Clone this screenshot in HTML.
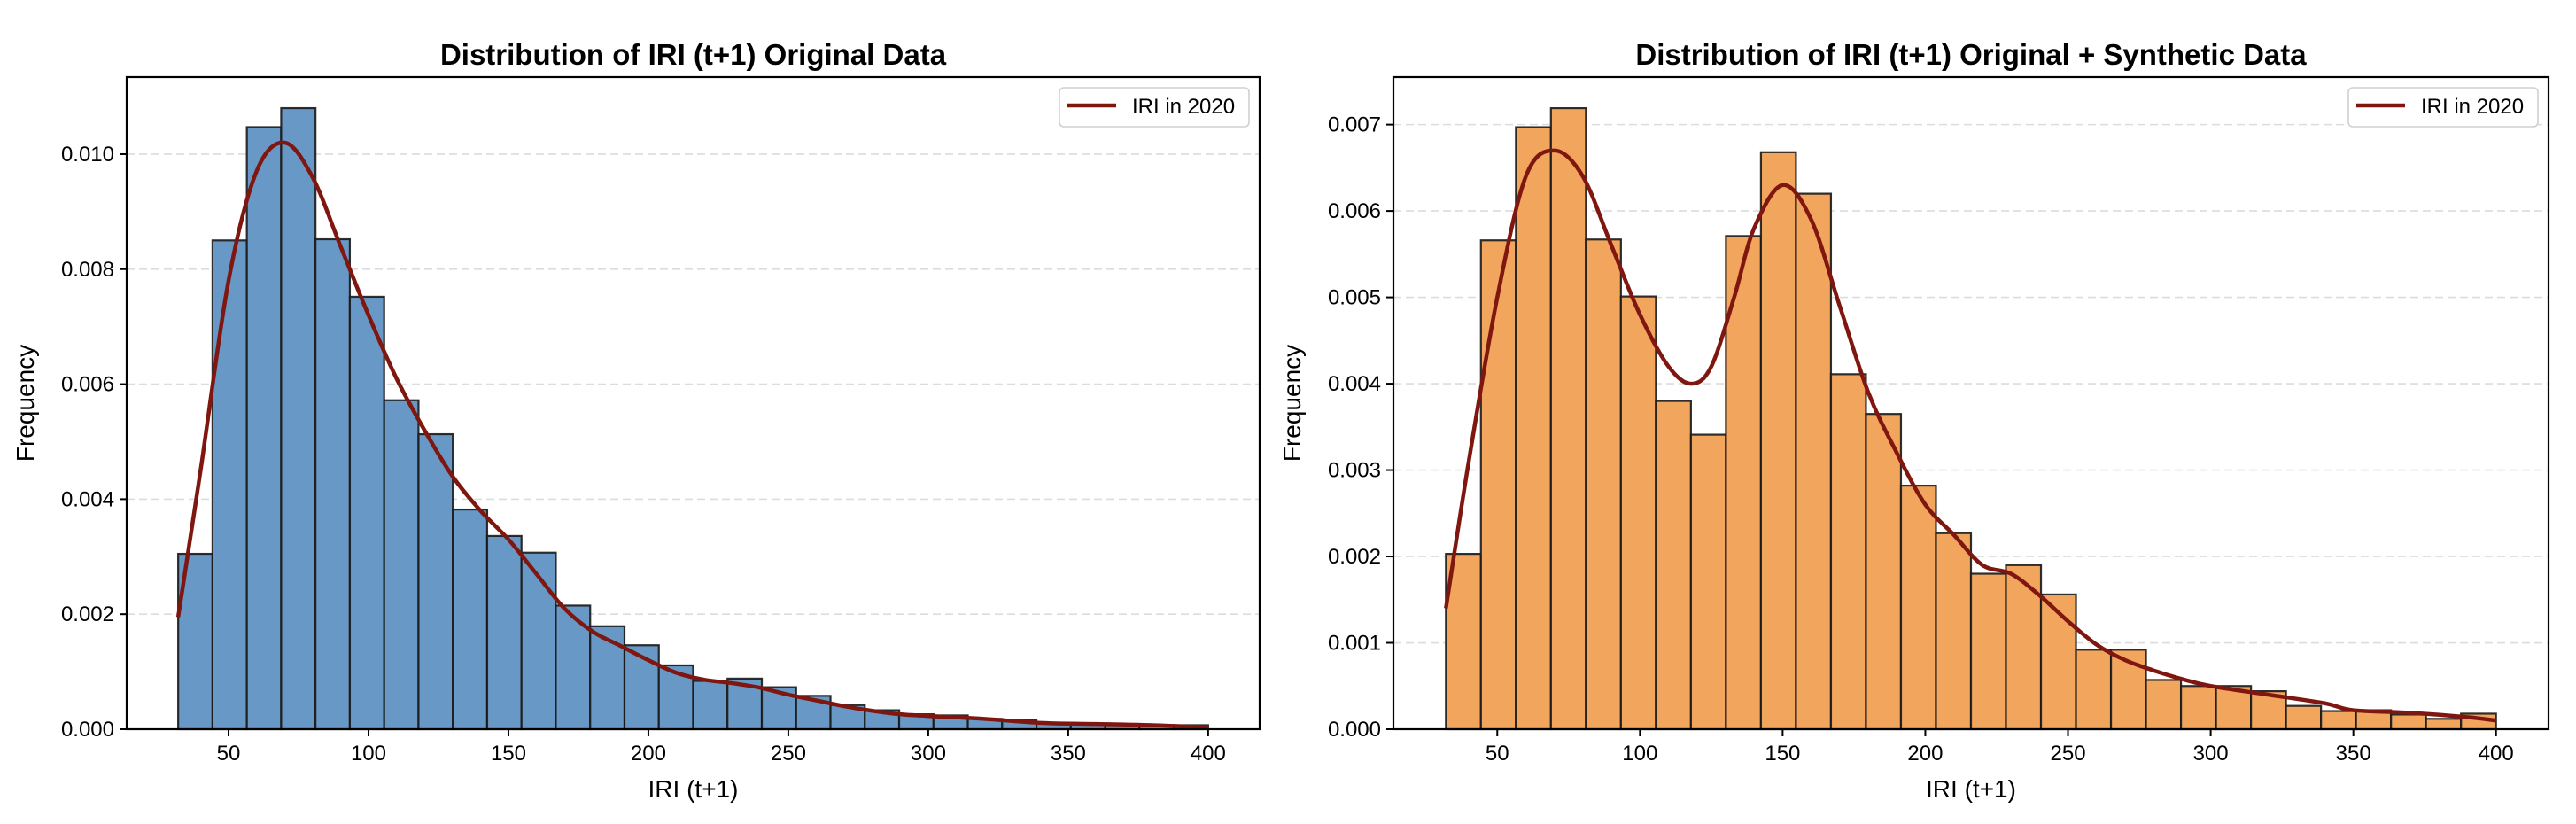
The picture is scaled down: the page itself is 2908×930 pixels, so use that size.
<!DOCTYPE html>
<html><head><meta charset="utf-8">
<style>
html,body{margin:0;padding:0;background:#fff;}
svg{display:block;font-family:"Liberation Sans",Arial,sans-serif;}
</style></head>
<body>
<svg id="fig" width="2908" height="930" viewBox="0 0 2908 930" xmlns="http://www.w3.org/2000/svg"></svg>
<script>
// Shared histogram bin settings
const binStart = 32, binEnd = 400, binCount = 30;
const xTicks = [50,100,150,200,250,300,350,400];

// Left chart data (original)
const leftBars = [0.00305,0.00850,0.01047,0.01080,0.00852,0.00752,0.00572,0.00513,0.00382,0.00336,0.00307,0.00215,0.00179,0.00146,0.00111,0.00084,0.00088,0.00073,0.00058,0.00042,0.00033,0.00026,0.00024,0.00018,0.00016,0.00011,0.00009,0.00007,0.00007,0.00007];
const leftKdeX = [32,40,50,60,70,80,90,100,110,120,130,140,150,160,170,180,190,200,210,220,230,240,250,260,270,280,290,300,320,340,360,380,400];
const leftKdeY = [0.00195,0.0045,0.0078,0.0097,0.0102,0.0096,0.0084,0.0072,0.0061,0.0052,0.0044,0.0038,0.0033,0.0027,0.0021,0.0017,0.00145,0.0012,0.00098,0.00086,0.0008,0.00072,0.0006,0.0005,0.0004,0.00032,0.00026,0.00023,0.00018,0.00011,0.00009,0.00007,0.00003];
const leftYTicks = [0,0.002,0.004,0.006,0.008,0.010];
const leftYMax = 0.01134;

// Right chart data (original + synthetic)
const rightBars = [0.00203,0.00566,0.00697,0.00719,0.00567,0.00501,0.00380,0.00341,0.00571,0.00668,0.00620,0.00411,0.00365,0.00282,0.00227,0.00180,0.00190,0.00156,0.00092,0.00092,0.00057,0.00050,0.00050,0.00044,0.00027,0.00021,0.00022,0.00017,0.00012,0.00018];
const rightKdeX = [32,40,50,60,70,80,90,100,110,118,125,133,140,150,160,170,180,190,200,210,220,230,240,250,260,270,280,290,300,320,340,350,370,390,400];
const rightKdeY = [0.0014,0.0031,0.0050,0.0064,0.0067,0.0064,0.0056,0.0048,0.0042,0.0040,0.0042,0.0050,0.0058,0.0063,0.0059,0.0049,0.0039,0.0032,0.0026,0.00225,0.0019,0.0018,0.00155,0.00125,0.00098,0.0008,0.00068,0.00058,0.0005,0.0004,0.0003,0.00022,0.00019,0.00014,0.0001];
const rightYTicks = [0,0.001,0.002,0.003,0.004,0.005,0.006,0.007];
const rightYMax = 0.00755;

const NS = "http://www.w3.org/2000/svg";
const fig = document.getElementById('fig');
function mk(tag, attrs, parent){
  const e = document.createElementNS(NS, tag);
  for (const k in attrs) e.setAttribute(k, attrs[k]);
  (parent||fig).appendChild(e);
  return e;
}

function drawChart(o){
  const g = mk('g', {});
  
  
  const L=o.left, R=o.right, T=87, B=823;
  const xmin=13.6, xmax=418.4;
  const sx = v => L + (v - xmin)/(xmax - xmin)*(R-L);
  const sy = v => B - v/o.ymax*(B-T);

  o.yTicks.forEach(t=>{
    if (t===0) return;
    const gl = mk('line',{x1:L,x2:R,y1:sy(t),y2:sy(t),stroke:'#dcdcdc','stroke-width':1.6,'stroke-dasharray':'9,5'},g);
    
    
  });

  const bw = (binEnd-binStart)/binCount;
  o.bars.forEach((v,i)=>{
    const x0 = sx(binStart + i*bw), x1 = sx(binStart + (i+1)*bw);
    const r = mk('rect',{x:x0,y:sy(v),width:x1-x0,height:B-sy(v),fill:o.color,stroke:'#1a1a1a','stroke-width':2.2,'stroke-opacity':0.9},g);
    
    
  });

  const pts = o.kx.map((x,i)=>[sx(x), sy(o.ky[i])]);
  let d = 'M'+pts[0][0]+','+pts[0][1];
  for (let i=0;i<pts.length-1;i++){
    const p0=pts[Math.max(0,i-1)], p1=pts[i], p2=pts[i+1], p3=pts[Math.min(pts.length-1,i+2)];
    const c1=[p1[0]+(p2[0]-p0[0])/6, p1[1]+(p2[1]-p0[1])/6];
    const c2=[p2[0]-(p3[0]-p1[0])/6, p2[1]-(p3[1]-p1[1])/6];
    d += ' C'+c1+' '+c2+' '+p2;
  }
  const kde = mk('path',{d:d,fill:'none',stroke:'#7f1710','stroke-width':4.5},g);
  
  

  const fr = mk('rect',{x:L,y:T,width:R-L,height:B-T,fill:'none',stroke:'#000','stroke-width':2.2},g);
  
  

  o.yTicks.forEach(t=>{
    mk('line',{x1:L-8,x2:L,y1:sy(t),y2:sy(t),stroke:'#000','stroke-width':2},g);
    const tx = mk('text',{x:L-14,y:sy(t)+8,'font-size':24,'text-anchor':'end',fill:'#000'},g);
    tx.textContent = t.toFixed(3);
    
    
  });
  xTicks.forEach(t=>{
    mk('line',{x1:sx(t),x2:sx(t),y1:B,y2:B+8,stroke:'#000','stroke-width':2},g);
    const tx = mk('text',{x:sx(t),y:858,'font-size':24,'text-anchor':'middle',fill:'#000'},g);
    tx.textContent = t;
    
    
  });

  const title = mk('text',{x:(L+R)/2,y:73,'font-size':33,'font-weight':'bold','text-anchor':'middle',fill:'#000'},g);
  title.textContent = o.title;
  
  

  const xl = mk('text',{x:(L+R)/2,y:900,'font-size':28,'text-anchor':'middle',fill:'#000'},g);
  xl.textContent = 'IRI (t+1)';
  
  

  const yl = mk('text',{x:0,y:0,'font-size':28,'text-anchor':'middle',fill:'#000',transform:'translate('+(o.ylabX)+','+((T+B)/2)+') rotate(-90)'},g);
  yl.textContent = 'Frequency';
  
  

  const lg = mk('g',{},g);
  
  
  const lx = R-226, ly = 99;
  mk('rect',{x:lx,y:ly,width:214,height:44,rx:5,fill:'#fff',stroke:'#d0d0d0','stroke-width':1.6},lg);
  mk('line',{x1:lx+9,x2:lx+64,y1:ly+20,y2:ly+20,stroke:'#7f1710','stroke-width':4.5},lg);
  const lt = mk('text',{x:lx+82,y:ly+29,'font-size':24,fill:'#000'},lg);
  lt.textContent = 'IRI in 2020';
  
  
}

drawChart({name:'original-data-chart',left:143,right:1422,bars:leftBars,kx:leftKdeX,ky:leftKdeY,yTicks:leftYTicks,ymax:leftYMax,color:'#6898c5',title:'Distribution of IRI (t+1) Original Data',ylabX:38});
drawChart({name:'synthetic-data-chart',left:1573,right:2877,bars:rightBars,kx:rightKdeX,ky:rightKdeY,yTicks:rightYTicks,ymax:rightYMax,color:'#f1a55d',title:'Distribution of IRI (t+1) Original + Synthetic Data',ylabX:1468});
</script>
</body></html>
